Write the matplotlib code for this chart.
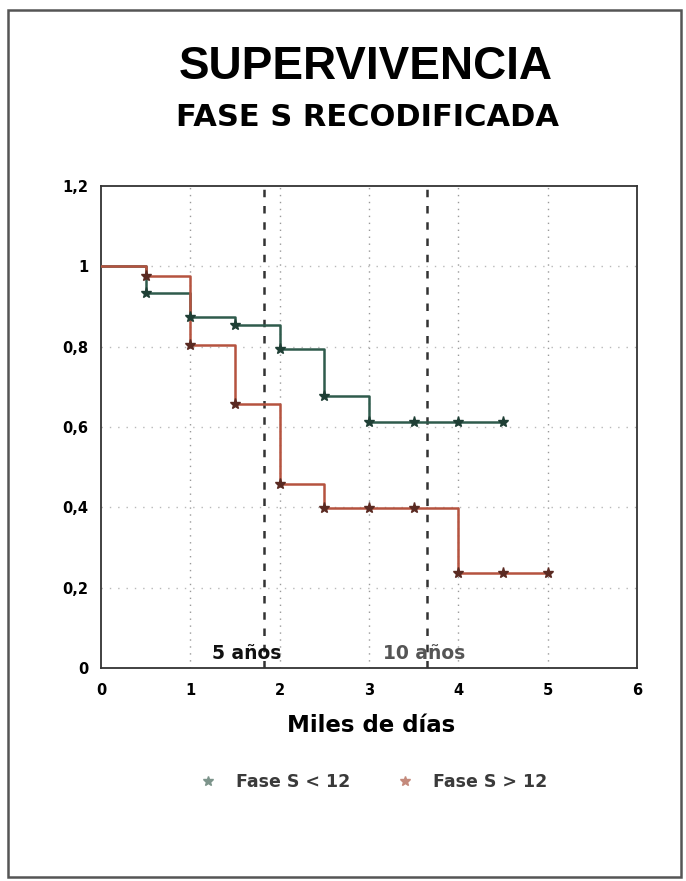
import matplotlib
matplotlib.use("Agg")
import matplotlib.pyplot as plt
from matplotlib.lines import Line2D
from matplotlib.patches import Rectangle

# Kaplan-Meier survival estimates (time in thousands of days)
green_times = [0, 0.5, 1.0, 1.5, 2.0, 2.5, 3.0, 4.5]
green_surv = [1.0, 0.933, 0.873, 0.853, 0.794, 0.677, 0.612, 0.612]
green_mark_t = [0.5, 1.0, 1.5, 2.0, 2.5, 3.0, 3.5, 4.0, 4.5]
green_mark_s = [0.933, 0.873, 0.853, 0.794, 0.677, 0.612, 0.612, 0.612, 0.612]

red_times = [0, 0.5, 1.0, 1.5, 2.0, 2.5, 4.0, 5.0]
red_surv = [1.0, 0.975, 0.803, 0.657, 0.458, 0.398, 0.236, 0.236]
red_mark_t = [0.5, 1.0, 1.5, 2.0, 2.5, 3.0, 3.5, 4.0, 4.5, 5.0]
red_mark_s = [0.975, 0.803, 0.657, 0.458, 0.398, 0.398, 0.398, 0.236, 0.236, 0.236]

x_ticks = [0, 1, 2, 3, 4, 5, 6]
y_ticks = [0, 0.2, 0.4, 0.6, 0.8, 1.0, 1.2]
y_tick_labels = ["0", "0,2", "0,4", "0,6", "0,8", "1", "1,2"]
year_marks = [1.826, 3.652]
year_labels = ["5 años", "10 años"]
legend_labels = ["Fase S < 12", "Fase S > 12"]

green = "#2f5b4c"
red = "#b5533f"
green_mk = "#1f3f35"
red_mk = "#5a2a22"

fig = plt.figure(figsize=(6.86, 8.81), dpi=100)
fig.patch.set_facecolor("white")

# outer frame
fig.add_artist(Rectangle((8 / 686, 4 / 881), 673 / 686, 867 / 881,
                         transform=fig.transFigure, fill=False,
                         edgecolor="#555555", lw=1.8))

fig.text(366 / 686, 1 - 67 / 881, "SUPERVIVENCIA", ha="center", va="center",
         fontsize=33, fontweight="bold", family="Liberation Sans")
fig.text(368 / 686, 1 - 118 / 881, "FASE S RECODIFICADA", ha="center", va="center",
         fontsize=22, fontweight="bold", family="DejaVu Sans")

ax = fig.add_axes([101 / 686, 1 - 668 / 881, 536 / 686, 482 / 881])
ax.set_xlim(0, 6)
ax.set_ylim(0, 1.2)

# light dotted grid
for x in x_ticks[1:-1]:
    ax.axvline(x, color="#9a9a9a", lw=1.0, ls=(0, (1, 4)), zorder=1)
for y in y_ticks[1:-1]:
    ax.axhline(y, color="#b8b8b8", lw=1.0, ls=(0, (1, 5)), zorder=1)

# 5 and 10 year reference lines
for x in year_marks:
    ax.axvline(x, color="#333333", lw=1.8, ls=(0, (3, 3.5)), zorder=1)

ax.step(green_times, green_surv, where="post", color=green, lw=1.8, zorder=3)
ax.step(red_times, red_surv, where="post", color=red, lw=1.8, zorder=3)
ax.plot(green_mark_t, green_mark_s, ls="none", marker="*", ms=8, color=green_mk, zorder=4)
ax.plot(red_mark_t, red_mark_s, ls="none", marker="*", ms=8, color=red_mk, zorder=4)

ax.text(1.63, 0.012, year_labels[0], ha="center", va="bottom",
        fontsize=13.5, fontweight="bold", color="#111111")
ax.text(3.62, 0.012, year_labels[1], ha="center", va="bottom",
        fontsize=13.5, fontweight="bold", color="#555555")

ax.set_xticks(x_ticks)
ax.set_xticklabels([str(v) for v in x_ticks])
ax.set_yticks(y_ticks)
ax.set_yticklabels(y_tick_labels)
ax.tick_params(axis="x", length=0, labelsize=10.5, pad=11)
ax.tick_params(axis="y", length=0, labelsize=10.5, pad=9)
for lab in ax.get_xticklabels() + ax.get_yticklabels():
    lab.set_fontweight("bold")
for sp in ax.spines.values():
    sp.set_color("#333333")
    sp.set_linewidth(1.3)

fig.text(371 / 686, 1 - 725 / 881, "Miles de días", ha="center", va="center",
         fontsize=16.5, fontweight="bold")

handles = [Line2D([], [], ls="none", marker="*", ms=7, color="#7d948b"),
           Line2D([], [], ls="none", marker="*", ms=7, color="#c48a7c")]
fig.legend(handles, legend_labels, loc="center", bbox_to_anchor=(369 / 686, 1 - 782 / 881),
           ncol=2, frameon=False,
           prop={"weight": "bold", "size": 12.5}, handletextpad=0.6, columnspacing=2.2,
           labelcolor="#3a3a3a")

fig.savefig("out.png", dpi=100, facecolor="white")
